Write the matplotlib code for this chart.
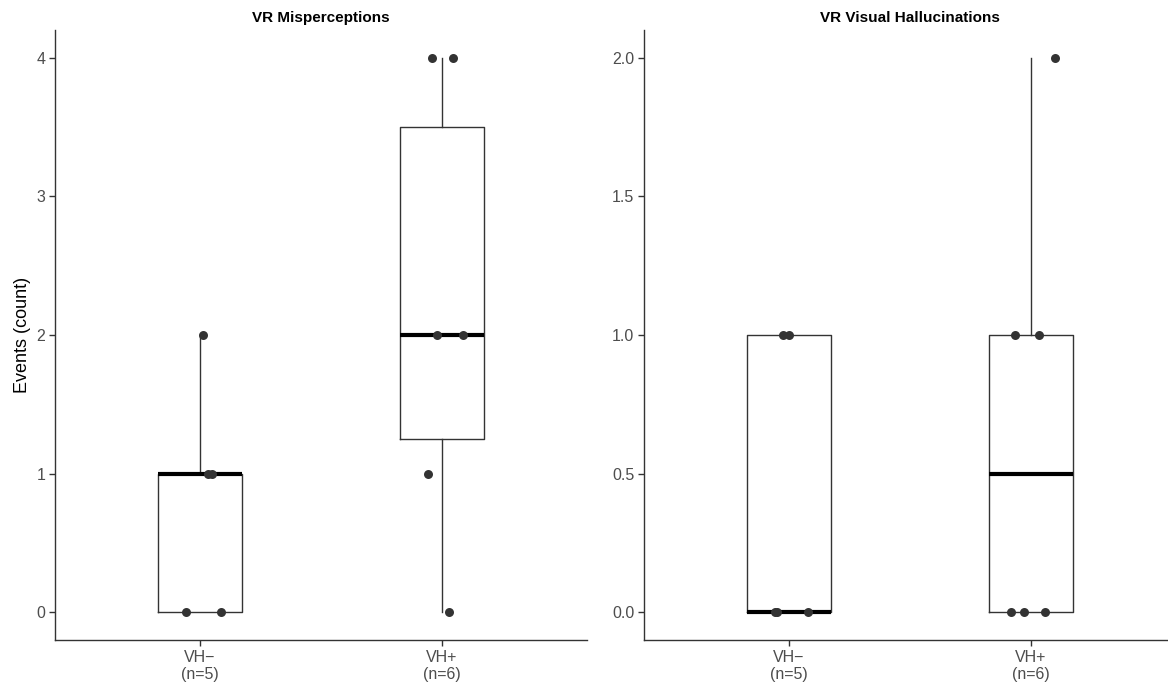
import numpy as np
import matplotlib.pyplot as plt

plt.rcParams['font.family'] = ['Liberation Sans', 'DejaVu Sans']

groups = ["VH\u2212\n(n=5)", "VH+\n(n=6)"]

# VR misperceptions (count per participant)
misp_neg = [0, 0, 1, 1, 2]
misp_pos = [0, 1, 2, 2, 4, 4]
# VR visual hallucinations (count per participant)
hall_neg = [0, 0, 0, 1, 1]
hall_pos = [0, 0, 0, 1, 1, 2]

# horizontal jitter
jit_misp_neg = [-0.058, 0.087, 0.033, 0.05, 0.012]
jit_misp_pos = [0.029, -0.058, -0.021, 0.087, -0.041, 0.045]
jit_hall_neg = [-0.058, 0.079, -0.05, -0.025, 0.0]
jit_hall_pos = [-0.083, -0.029, 0.058, -0.066, 0.033, 0.099]

panels = [
    ("VR Misperceptions", [misp_neg, misp_pos], [jit_misp_neg, jit_misp_pos],
     [0, 1, 2, 3, 4], ["0", "1", "2", "3", "4"], (-0.2, 4.2)),
    ("VR Visual Hallucinations", [hall_neg, hall_pos], [jit_hall_neg, jit_hall_pos],
     [0, 0.5, 1, 1.5, 2], ["0.0", "0.5", "1.0", "1.5", "2.0"], (-0.1, 2.1)),
]

fig = plt.figure(figsize=(11.68, 6.88), dpi=100)
rects = [[55 / 1168, 48 / 688, 532 / 1168, 610 / 688],
         [644 / 1168, 48 / 688, 532 / 1168, 610 / 688]]

for i, (title, data, jit, yt, ytl, ylim) in enumerate(panels):
    ax = fig.add_axes(rects[i])
    ax.boxplot(data, positions=[1, 2], widths=0.35, whis=1.5,
               showfliers=False, showcaps=False,
               boxprops=dict(color="#333333", linewidth=1.0),
               whiskerprops=dict(color="#333333", linewidth=1.0),
               medianprops=dict(color="black", linewidth=3.0, solid_capstyle="butt"))
    for k, (vals, jj) in enumerate(zip(data, jit)):
        ax.scatter(np.array(jj) + k + 1, vals, s=42, color="#333333", zorder=5,
                   linewidths=0)
    ax.set_xlim(0.4, 2.6)
    ax.set_ylim(*ylim)
    ax.set_xticks([1, 2])
    ax.set_xticklabels(groups, fontsize=11.5, color="#4D4D4D", linespacing=1.2)
    ax.set_yticks(yt)
    ax.set_yticklabels(ytl, fontsize=11.5, color="#4D4D4D")
    ax.tick_params(length=4, width=1, color="#333333", pad=3)
    for s in ["top", "right"]:
        ax.spines[s].set_visible(False)
    for s in ["left", "bottom"]:
        ax.spines[s].set_color("#333333")
        ax.spines[s].set_linewidth(1.0)
    ax.set_title(title, fontsize=11, fontweight="bold", pad=6)
    if i == 0:
        ax.set_ylabel("Events (count)", fontsize=13, labelpad=4)

fig.savefig("out.png", dpi=100)
